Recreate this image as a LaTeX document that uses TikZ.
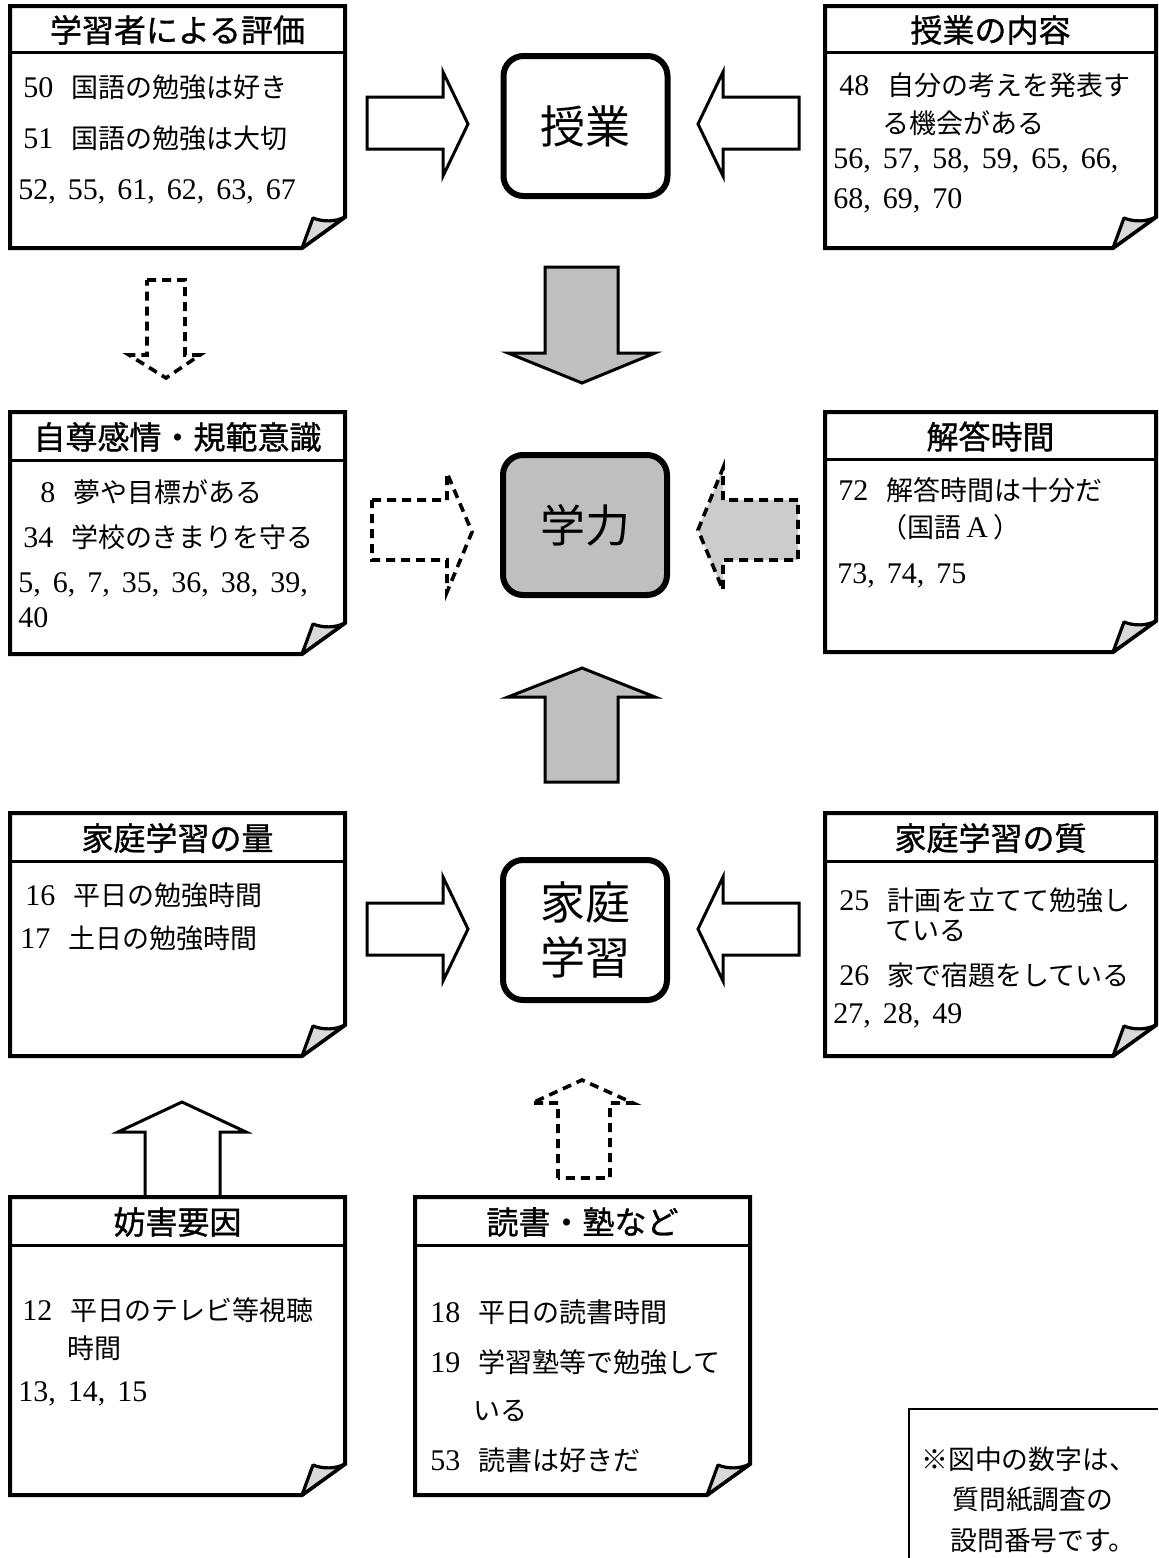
\documentclass[tikz,border=0pt]{standalone}
\usepackage{fontspec}
\setmainfont{Liberation Serif}
\newfontfamily\jp{Noto Sans CJK JP}
\newfontfamily\jpb{Noto Sans CJK JP}[FakeBold=1]
\tikzset{
 memoline/.style={line width=2pt, line join=miter},
 hdrline/.style={line width=1.5pt},
 foldst/.style={line width=1.6pt, fill=black!15, line join=round},
 ttl/.style={font=\fontsize{16pt}{19pt}\selectfont\jpb, inner sep=0pt},
 bodyt/.style={font=\fontsize{15pt}{18pt}\selectfont, inner sep=0pt, anchor=base west},
 notet/.style={font=\fontsize{13.4pt}{16pt}\selectfont\jp, inner sep=0pt, anchor=base west},
 hub/.style={draw, line width=3pt, rounded corners=10pt, minimum width=82pt, minimum height=70pt,
   font=\fontsize{22.5pt}{27.5pt}\selectfont\jp, align=center, inner sep=0pt},
 blk/.style={line width=1.5pt, line join=miter, fill=white},
 blkg/.style={blk, fill=black!25},
 dsh/.style={line width=1.8pt, dash pattern=on 4.5pt off 3pt, line join=miter},
}
\newcommand\jt[1]{{\fontsize{13.5pt}{16pt}\selectfont\jp #1}}
\newcommand\nsep{,\hspace{6pt}}
\newcommand\gp{\hspace{9pt}}
% #1 name, #2 left, #3 top, #4 right, #5 bottom, #6 header line, #7 title
\newcommand\memo[7]{%
 \draw[memoline, fill=white] (#2,#3) -- (#4,#3) -- (#4,#5-31) -- (#4-43,#5) -- (#2,#5) -- cycle;
 \draw[hdrline] (#2,#6) -- (#4,#6);
 \filldraw[foldst] (#4,#5-31) .. controls (#4-10,#5-26) and (#4-22,#5-26) .. (#4-32,#5-30) -- (#4-43,#5) -- cycle;
 \coordinate (#1) at ({(#2+#4)/2},{(#3+#5)/2});
 \node[ttl] (#1-title) at ({(#2+#4)/2},{(#3+#6)/2+1}) {#7};
}
\begin{document}
\begin{tikzpicture}[x=0.5pt,y=-0.5pt]
\fill[white] (0,0) rectangle (1158,1558);
\useasboundingbox (0,0) rectangle (1158,1558);

% ---------- block arrows drawn under the boxes ----------
\draw[blk] (145,1198) -- (145,1132) -- (118,1132) -- (182,1102) -- (246,1132) -- (220,1132) -- (220,1198) -- cycle;

% ---------- memo boxes ----------
\memo{hyoka}{10}{6}{345}{248}{52}{学習者による評価}
\node[bodyt] (hyoka-1) at (23,97) {50\gp\jt{国語の勉強は好き}};
\node[bodyt] (hyoka-2) at (23,148) {51\gp\jt{国語の勉強は大切}};
\node[bodyt] (hyoka-3) at (18,199) {52\nsep 55\nsep 61\nsep 62\nsep 63\nsep 67};

\memo{naiyo}{825}{6}{1156}{248}{52}{授業の内容}
\node[bodyt] (naiyo-1) at (839,95) {48\gp\jt{自分の考えを発表す}};
\node[bodyt] (naiyo-2) at (882,133) {\jt{る機会がある}};
\node[bodyt] (naiyo-3) at (833,168) {56\nsep 57\nsep 58\nsep 59\nsep 65\nsep 66,};
\node[bodyt] (naiyo-4) at (833,208) {68\nsep 69\nsep 70};

\memo{jison}{10}{412}{345}{654}{460}{自尊感情・規範意識}
\node[bodyt] (jison-1) at (40,502) {8\gp\jt{夢や目標がある}};
\node[bodyt] (jison-2) at (23,547) {34\gp\jt{学校のきまりを守る}};
\node[bodyt] (jison-3) at (18,592) {5\nsep 6\nsep 7\nsep 35\nsep 36\nsep 38\nsep 39,};
\node[bodyt] (jison-4) at (18,627) {40};

\memo{kaito}{825}{412}{1156}{652}{459}{解答時間}
\node[bodyt] (kaito-1) at (838,500) {72\gp\jt{解答時間は十分だ}};
\node[bodyt] (kaito-2) at (880,537) {\jt{（国語}\,A\,\jt{）}};
\node[bodyt] (kaito-3) at (837,583) {73\nsep 74\nsep 75};

\memo{ryo}{10}{813}{345}{1056}{861}{家庭学習の量}
\node[bodyt] (ryo-1) at (25,905) {16\gp\jt{平日の勉強時間}};
\node[bodyt] (ryo-2) at (20,948) {17\gp\jt{土日の勉強時間}};

\memo{shitsu}{825}{813}{1156}{1056}{861}{家庭学習の質}
\node[bodyt] (shitsu-1) at (839,910) {25\gp\jt{計画を立てて勉強し}};
\node[bodyt] (shitsu-2) at (885,940) {\jt{ている}};
\node[bodyt] (shitsu-3) at (839,985) {26\gp\jt{家で宿題をしている}};
\node[bodyt] (shitsu-4) at (833,1023) {27\nsep 28\nsep 49};

\memo{bogai}{10}{1197}{345}{1495}{1245}{妨害要因}
\node[bodyt] (bogai-1) at (22,1320) {12\gp\jt{平日のテレビ等視聴}};
\node[bodyt] (bogai-2) at (67,1358) {\jt{時間}};
\node[bodyt] (bogai-3) at (18,1401) {13\nsep 14\nsep 15};

\memo{dokusho}{415}{1197}{750}{1495}{1245}{読書・塾など}
\node[bodyt] (dokusho-1) at (430,1322) {18\gp\jt{平日の読書時間}};
\node[bodyt] (dokusho-2) at (430,1372) {19\gp\jt{学習塾等で勉強して}};
\node[bodyt] (dokusho-3) at (473,1420) {\jt{いる}};
\node[bodyt] (dokusho-4) at (430,1470) {53\gp\jt{読書は好きだ}};

% ---------- hubs ----------
\node[hub] (jugyo) at (585.5,126) {授業};
\node[hub, fill=black!25] (gakuryoku) at (585,525) {学力};
\node[hub] (katei) at (585,930) {家庭\\学習};

% ---------- block arrows ----------
% row 1
\draw[blk] (367,97) -- (443,97) -- (443,72) -- (468,124) -- (443,176) -- (443,149) -- (367,149) -- cycle;
\draw[blk] (799,97) -- (723,97) -- (723,72) -- (698,124) -- (723,176) -- (723,149) -- (799,149) -- cycle;
\draw[blkg] (545,267) -- (618,267) -- (618,353) -- (655,353) -- (582,383) -- (508,353) -- (545,353) -- cycle;
\draw[dsh, fill=white] (147,280) -- (185,280) -- (185,355) -- (200,355) -- (166,378) -- (129,355) -- (147,355) -- cycle;
% row 2
\draw[dsh, fill=white] (372,500) -- (447,500) -- (447,473) -- (472,532) -- (447,592) -- (447,560) -- (372,560) -- cycle;
\draw[dsh, fill=black!20] (798,500) -- (723,500) -- (723,468) -- (698,530) -- (723,590) -- (723,560) -- (798,560) -- cycle;
\draw[blkg] (545,782) -- (545,697) -- (508,697) -- (582,668) -- (655,697) -- (618,697) -- (618,782) -- cycle;
% row 3
\draw[blk] (367,903) -- (443,903) -- (443,877) -- (468,929) -- (443,981) -- (443,955) -- (367,955) -- cycle;
\draw[blk] (799,903) -- (723,903) -- (723,877) -- (698,929) -- (723,981) -- (723,955) -- (799,955) -- cycle;
\draw[dsh, fill=white] (558,1178) -- (558,1103) -- (532,1103) -- (582,1080) -- (633,1103) -- (610,1103) -- (610,1178) -- cycle;

% ---------- note ----------
\draw[line width=0.6pt] (909,1558) -- (909,1409) -- (1158,1409);
\node[notet] (note-1) at (921,1469) {※図中の数字は、};
\node[notet] (note-2) at (952,1509) {質問紙調査の};
\node[notet] (note-3) at (950,1550) {設問番号です。};
\end{tikzpicture}
\end{document}
